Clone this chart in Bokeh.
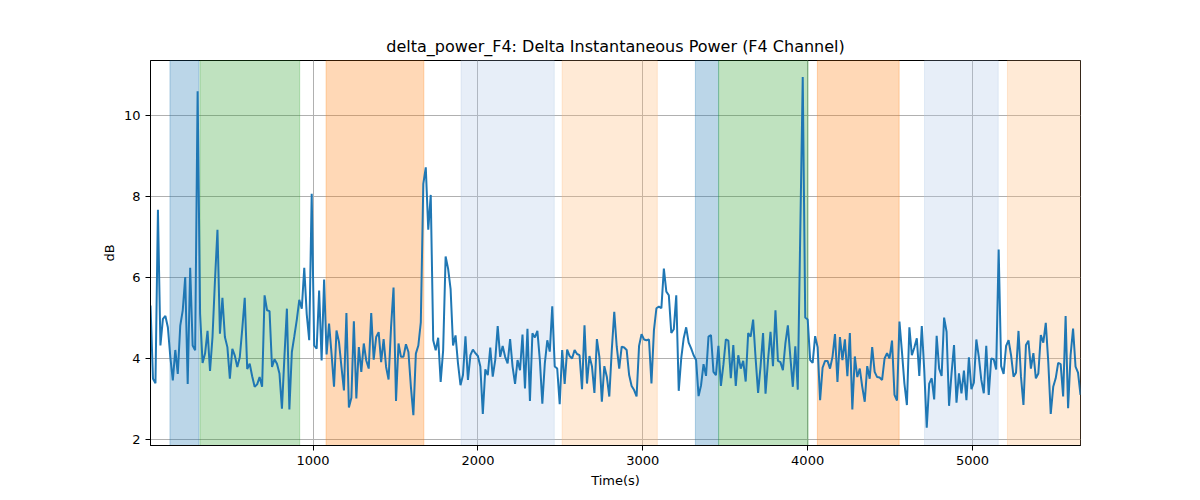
import numpy as np
from bokeh.plotting import figure
from bokeh.models import Range1d, BoxAnnotation, FixedTicker
from bokeh.embed import file_html
from bokeh.resources import INLINE

# ---- data ----
time_start = 14.0
time_end = 5655.0
power_db = [
    5.31, 3.50, 3.39, 7.67, 4.32, 4.98, 5.05, 4.77, 4.03, 3.46, 4.21, 3.62, 4.81, 5.19, 6.01, 3.37, 6.24, 4.32, 4.20, 10.60,
    5.10, 3.89, 4.12, 4.68, 3.69, 4.53, 5.93, 7.18, 4.61, 5.50, 4.53, 4.28, 3.50, 4.24, 4.07, 3.79, 4.03, 4.73, 5.50, 3.74,
    3.87, 3.56,
    3.30, 3.36, 3.54, 3.30, 5.56, 5.19, 5.17, 3.79, 3.98, 3.87, 3.63, 2.76, 4.04, 5.23, 2.74, 4.16, 4.55, 4.96, 5.45, 5.23,
    6.24, 5.09, 4.45, 8.07, 4.32, 4.24, 5.68, 3.95, 5.95, 4.10, 4.86, 4.12, 3.30, 4.69, 4.41, 3.79, 3.21, 5.12, 2.79, 3.03,
    4.92,
    3.01, 4.28, 3.67, 4.37, 3.95, 3.75, 5.12, 3.97, 4.53, 4.65, 3.91, 4.48, 3.79, 3.48, 4.78, 5.75, 2.95, 4.37, 4.04, 4.04,
    4.35, 4.16, 3.30, 2.60, 4.12, 4.32, 4.90, 8.31, 8.72, 7.18, 8.04, 4.45, 4.20, 4.51, 3.42, 4.20, 6.52, 6.22, 5.72, 4.32,
    4.57, 3.87, 3.34,
    3.59, 4.55, 3.47, 4.08, 4.22, 4.13, 4.06, 3.80, 2.63, 3.73, 3.59, 4.27, 3.55, 3.96, 4.80, 4.04, 4.31, 4.04, 3.88, 4.48,
    3.80, 3.37, 3.96, 3.71, 4.59, 3.26, 4.73, 2.95, 4.62, 4.52, 4.68, 3.96, 2.88, 3.88, 4.45, 4.17, 5.29, 3.80, 3.75, 2.87,
    4.21, 3.37,
    4.22, 4.06, 4.00, 4.21, 4.11, 4.08, 3.24, 4.82, 3.38, 4.06, 3.81, 3.15, 4.48, 4.04, 2.93, 3.81, 3.55, 3.06, 4.21, 5.15,
    4.29, 3.75, 4.29, 4.27, 4.21, 3.59, 3.32, 3.22, 3.06, 4.31, 4.60, 4.47, 4.45, 4.47, 3.38, 4.70, 5.24, 5.28, 5.24, 6.22,
    5.65, 5.56,
    4.63, 4.72, 5.56, 3.20, 4.00, 4.50, 4.77, 4.39, 4.25, 4.08, 3.96, 3.07, 3.34, 3.86, 3.57, 4.54, 4.58, 3.67, 3.59, 4.31,
    3.32, 3.84, 4.47, 4.44, 3.51, 4.33, 3.32, 4.08, 3.75, 3.94, 3.43, 4.63, 4.54, 4.96, 4.00, 3.15, 3.81, 4.63, 3.13, 3.96,
    4.66, 3.81,
    5.19, 3.94, 3.91, 3.71, 4.37, 4.82, 4.04, 3.30, 4.30, 3.23, 7.10, 10.95, 5.01, 4.96, 3.96, 3.89, 4.55, 4.28, 2.97, 3.77,
    3.94, 3.94, 3.75, 4.04, 4.60, 3.42, 4.53, 3.96, 4.47, 3.56, 4.63, 2.74, 4.05, 3.54, 3.75, 3.30, 2.93, 3.81, 3.50, 4.28,
    3.67, 3.54,
    3.53, 3.47, 4.00, 4.13, 4.00, 4.44, 3.10, 2.96, 4.91, 4.17, 3.38, 2.85, 4.77, 4.08, 4.27, 4.50, 3.57, 4.80, 3.71, 2.29,
    3.38, 3.51, 2.99, 4.56, 3.75, 3.57, 5.01, 4.66, 2.83, 3.63, 4.33, 2.91, 3.63, 3.14, 3.70, 2.97, 4.03, 3.24, 3.40, 4.47,
    4.04, 3.47,
    3.14, 4.31, 3.10, 4.00, 3.98, 3.73, 6.69, 3.81, 3.62, 4.31, 4.45, 4.08, 3.55, 3.65, 4.68, 3.55, 2.85, 4.33, 4.44, 3.75,
    4.13, 3.51, 3.63, 4.58, 4.39, 4.88, 3.92, 2.63, 3.30, 3.51, 3.89, 3.86, 3.06, 5.05, 2.77, 4.08, 4.74, 3.80, 3.65, 3.10,
]
time_s = np.linspace(time_start, time_end, len(power_db))

span_start = [132, 314, 1079, 1898, 2511, 3319, 3460, 4059, 4709, 5212]
span_end = [308, 919, 1672, 2463, 3088, 3460, 4003, 4555, 5156, 5655]
span_color = ["#1f77b4", "#2ca02c", "#ff7f0e", "#aec7e8", "#ffbb78",
              "#1f77b4", "#2ca02c", "#ff7f0e", "#aec7e8", "#ffbb78"]

x_ticks = [1000, 2000, 3000, 4000, 5000]
y_ticks = [2, 4, 6, 8, 10]
y_min, y_max = 1.85, 11.36

FONT = "DejaVu Sans"

p = figure(width=1195, height=495, output_backend="svg", toolbar_location=None,
           x_range=Range1d(time_start, time_end), y_range=Range1d(y_min, y_max),
           title="delta_power_F4: Delta Instantaneous Power (F4 Channel)",
           min_border_left=150, min_border_right=115, min_border_top=60, min_border_bottom=50)

p.title.align = "center"
p.title.text_font = FONT
p.title.text_font_size = "16px"
p.title.text_font_style = "normal"
p.title.text_color = "black"

for s, e, c in zip(span_start, span_end, span_color):
    p.add_layout(BoxAnnotation(left=s, right=e, fill_color=c, fill_alpha=0.3,
                               line_color=c, line_alpha=0.3, line_width=1, level="underlay"))

p.line(time_s, power_db, line_color="#1f77b4", line_width=2)

p.xaxis.ticker = FixedTicker(ticks=x_ticks)
p.yaxis.ticker = FixedTicker(ticks=y_ticks)
p.xaxis.axis_label = "Time(s)"
p.yaxis.axis_label = "dB"
for ax in (p.xaxis, p.yaxis):
    ax.axis_label_text_font = FONT
    ax.axis_label_text_font_size = "13px"
    ax.axis_label_text_font_style = "normal"
    ax.axis_label_text_color = "black"
    ax.major_label_text_font = FONT
    ax.major_label_text_font_size = "13px"
    ax.major_label_text_color = "black"
    ax.axis_line_color = "black"
    ax.major_tick_line_color = "black"
    ax.major_tick_out = 5
    ax.major_tick_in = 0
    ax.minor_tick_line_color = None
p.yaxis.axis_label_standoff = 4

p.grid.grid_line_color = "#b0b0b0"
p.grid.grid_line_width = 1
p.outline_line_color = "black"
p.outline_line_alpha = 1
p.outline_line_width = 1
p.background_fill_color = "white"
p.border_fill_color = "white"

open("out.html", "w").write(file_html(p, INLINE))
